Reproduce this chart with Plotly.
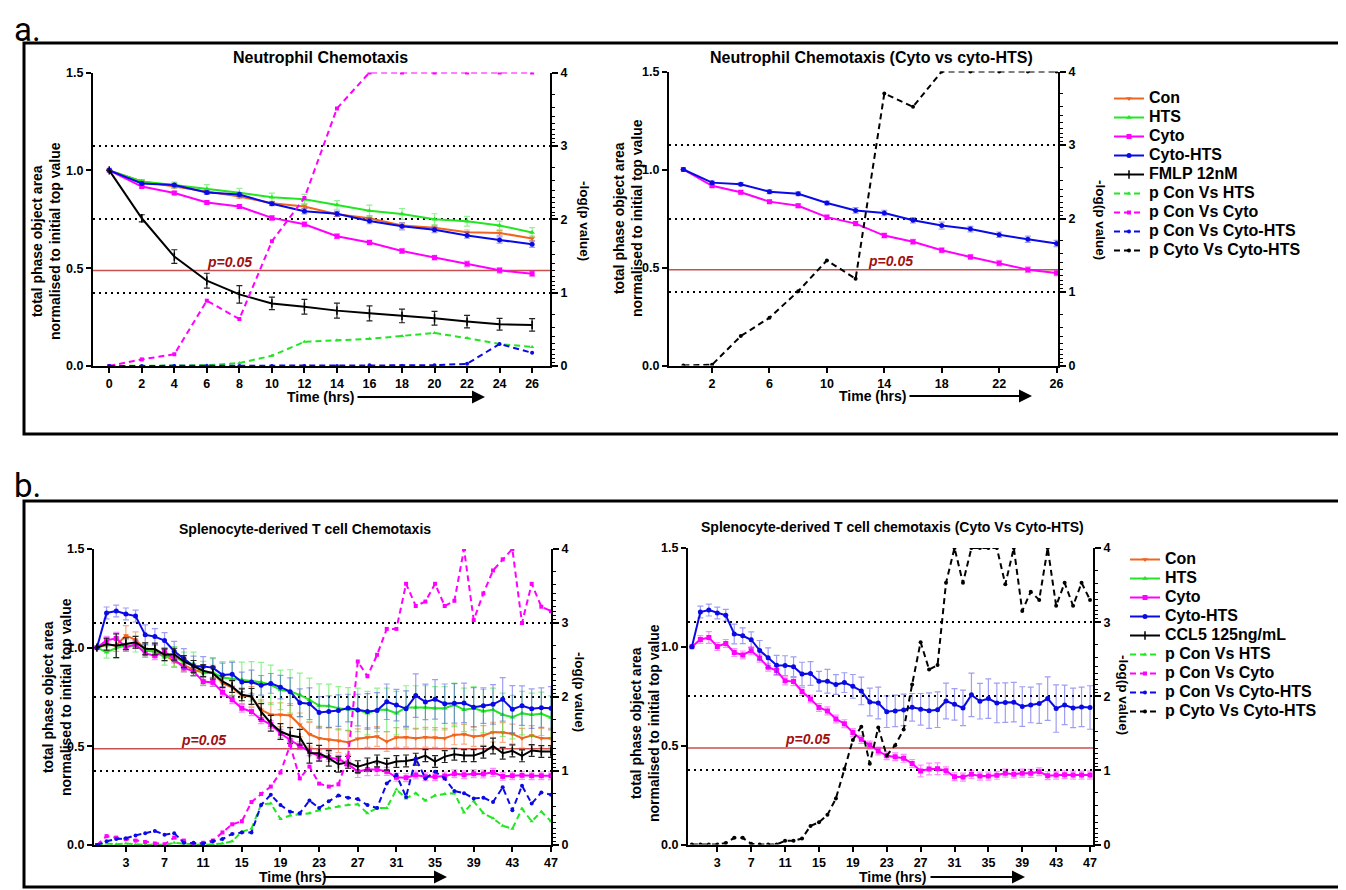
import numpy as np
import plotly.graph_objects as go

# page offset (default body margin) and figure size
OFF = 8
W, H = 1346 - OFF, 890 - OFF
FONT = "Liberation Sans, Arial, Helvetica, sans-serif"


def X(x):
    return (x - OFF) / W


def Y(y):
    return 1 - (y - OFF) / H


# ---------------- panel a data (neutrophils) ----------------
t_a = [0, 2, 4, 6, 8, 10, 12, 14, 16, 18, 20, 22, 24, 26]
con_a = [1.000, 0.943, 0.917, 0.891, 0.866, 0.832, 0.815, 0.776, 0.755, 0.718, 0.707, 0.683, 0.680, 0.652]
con_a_err = [0, 0.008, 0.008, 0.010, 0.010, 0.010, 0.012, 0.012, 0.012, 0.012, 0.012, 0.012, 0.012, 0.012]
hts_a = [1.000, 0.943, 0.925, 0.905, 0.886, 0.862, 0.852, 0.823, 0.794, 0.777, 0.750, 0.740, 0.718, 0.682]
hts_a_err = [0, 0.010, 0.015, 0.022, 0.022, 0.022, 0.025, 0.022, 0.028, 0.028, 0.028, 0.025, 0.022, 0.025]
cyto_a = [1.000, 0.917, 0.884, 0.836, 0.815, 0.757, 0.724, 0.663, 0.631, 0.588, 0.554, 0.522, 0.489, 0.472]
cyto_a_err = [0, 0.008, 0.008, 0.008, 0.010, 0.012, 0.012, 0.012, 0.012, 0.012, 0.012, 0.014, 0.014, 0.014]
cthts_a = [1.000, 0.933, 0.925, 0.887, 0.876, 0.829, 0.791, 0.778, 0.741, 0.714, 0.696, 0.667, 0.644, 0.622]
cthts_a_err = [0, 0.008, 0.008, 0.010, 0.010, 0.010, 0.014, 0.014, 0.014, 0.018, 0.014, 0.014, 0.016, 0.016]
fmlp_a = [1.000, 0.755, 0.559, 0.436, 0.366, 0.320, 0.303, 0.283, 0.269, 0.256, 0.244, 0.227, 0.213, 0.210]
fmlp_a_err = [0, 0.018, 0.035, 0.038, 0.045, 0.032, 0.038, 0.038, 0.038, 0.035, 0.035, 0.032, 0.030, 0.032]

p_con_hts_a = [0, 0, 0, 0.01, 0.04, 0.14, 0.33, 0.35, 0.37, 0.41, 0.45, 0.38, 0.30, 0.26]
p_con_cyto_a = [0, 0.09, 0.16, 0.89, 0.64, 1.70, 2.29, 3.51, 4.0, 4.0, 4.0, 4.0, 4.0, 4.0]
p_con_cthts_a = [0, 0, 0, 0, 0, 0, 0, 0, 0.01, 0, 0.01, 0.03, 0.30, 0.18]
p_cyto_cthts_a = [0, 0.01, 0.40, 0.65, 1.01, 1.43, 1.18, 3.70, 3.52, 4.0, 4.0, 4.0, 4.0, 4.0]

# ---------------- panel b data (T cells) ----------------
t_b = [0, 1, 2, 3, 4, 5, 6, 7,
       8, 9, 10, 11, 12, 13, 14, 15,
       16, 17, 18, 19, 20, 21, 22, 23,
       24, 25, 26, 27, 28, 29, 30, 31,
       32, 33, 34, 35, 36, 37, 38, 39,
       40, 41, 42, 43, 44, 45, 46, 47]
con_b = [1.000, 1.015, 1.011, 1.062, 1.040, 0.994, 0.984, 0.964,
         0.930, 0.913, 0.888, 0.874, 0.871, 0.820, 0.798, 0.756,
         0.753, 0.685, 0.660, 0.660, 0.656, 0.609, 0.561, 0.541,
         0.533, 0.528, 0.521, 0.538, 0.545, 0.550, 0.524, 0.545,
         0.546, 0.541, 0.546, 0.545, 0.541, 0.558, 0.561, 0.550,
         0.555, 0.572, 0.570, 0.563, 0.541, 0.555, 0.541, 0.541]
con_b_err = [0, 0.03, 0.03, 0.05, 0.04, 0.03, 0.03, 0.03,
             0.03, 0.03, 0.03, 0.04, 0.04, 0.04, 0.04, 0.04,
             0.05, 0.05, 0.06, 0.06, 0.06, 0.06, 0.06, 0.06,
             0.06, 0.06, 0.06, 0.05, 0.05, 0.05, 0.05, 0.05,
             0.05, 0.05, 0.05, 0.05, 0.05, 0.05, 0.05, 0.05,
             0.05, 0.05, 0.05, 0.05, 0.05, 0.05, 0.05, 0.05]
hts_b = [1.000, 0.977, 0.998, 1.011, 1.008, 0.984, 0.981, 0.952,
         0.955, 0.927, 0.917, 0.871, 0.874, 0.849, 0.842, 0.837,
         0.829, 0.825, 0.812, 0.786, 0.778, 0.761, 0.736, 0.707,
         0.705, 0.693, 0.688, 0.685, 0.668, 0.685, 0.685, 0.668,
         0.697, 0.697, 0.697, 0.693, 0.693, 0.710, 0.685, 0.693,
         0.678, 0.685, 0.660, 0.648, 0.668, 0.660, 0.665, 0.646]
hts_b_err = [0, 0.03, 0.05, 0.03, 0.03, 0.03, 0.03, 0.04,
             0.05, 0.05, 0.06, 0.06, 0.07, 0.08, 0.09, 0.09,
             0.10, 0.10, 0.10, 0.10, 0.11, 0.11, 0.11, 0.11,
             0.11, 0.11, 0.11, 0.11, 0.11, 0.11, 0.11, 0.11,
             0.11, 0.11, 0.11, 0.11, 0.11, 0.11, 0.11, 0.11,
             0.11, 0.11, 0.11, 0.11, 0.11, 0.11, 0.11, 0.11]
cyto_b = [1.000, 1.037, 1.047, 1.002, 1.017, 0.971, 0.959, 0.980,
          0.943, 0.897, 0.880, 0.828, 0.824, 0.774, 0.736, 0.693,
          0.676, 0.635, 0.611, 0.566, 0.532, 0.503, 0.473, 0.449,
          0.444, 0.436, 0.410, 0.372, 0.382, 0.383, 0.373, 0.343,
          0.341, 0.355, 0.346, 0.346, 0.350, 0.361, 0.356, 0.361,
          0.360, 0.368, 0.348, 0.351, 0.353, 0.351, 0.351, 0.351]
cyto_b_err = [0, 0.02, 0.03, 0.02, 0.02, 0.02, 0.02, 0.02,
              0.02, 0.02, 0.02, 0.02, 0.02, 0.02, 0.02, 0.02,
              0.02, 0.02, 0.02, 0.02, 0.02, 0.02, 0.02, 0.02,
              0.02, 0.02, 0.02, 0.03, 0.03, 0.03, 0.02, 0.02,
              0.02, 0.02, 0.02, 0.02, 0.02, 0.02, 0.02, 0.02,
              0.02, 0.02, 0.02, 0.02, 0.02, 0.02, 0.02, 0.02]
cthts_b = [1.000, 1.176, 1.186, 1.171, 1.160, 1.065, 1.056, 1.036,
           0.982, 0.945, 0.907, 0.905, 0.899, 0.862, 0.865, 0.826,
           0.826, 0.809, 0.819, 0.800, 0.777, 0.721, 0.716, 0.672,
           0.676, 0.681, 0.694, 0.684, 0.677, 0.682, 0.726, 0.709,
           0.691, 0.757, 0.725, 0.738, 0.716, 0.718, 0.720, 0.698,
           0.706, 0.713, 0.738, 0.688, 0.706, 0.691, 0.696, 0.693]
cthts_b_err = [0, 0.03, 0.03, 0.03, 0.03, 0.05, 0.04, 0.04,
               0.05, 0.05, 0.05, 0.05, 0.05, 0.06, 0.06, 0.05,
               0.06, 0.05, 0.05, 0.06, 0.07, 0.07, 0.08, 0.08,
               0.08, 0.08, 0.07, 0.08, 0.09, 0.09, 0.09, 0.08,
               0.09, 0.11, 0.09, 0.10, 0.10, 0.10, 0.10, 0.10,
               0.09, 0.10, 0.11, 0.12, 0.10, 0.10, 0.10, 0.11]
ccl5_b = [1.000, 1.018, 1.010, 1.020, 1.027, 0.994, 0.993, 0.964,
          0.967, 0.930, 0.905, 0.883, 0.871, 0.829, 0.803, 0.761,
          0.753, 0.676, 0.617, 0.575, 0.555, 0.546, 0.465, 0.465,
          0.440, 0.409, 0.419, 0.397, 0.411, 0.426, 0.409, 0.423,
          0.426, 0.435, 0.453, 0.423, 0.448, 0.460, 0.453, 0.453,
          0.470, 0.502, 0.465, 0.477, 0.452, 0.479, 0.474, 0.474]
ccl5_b_err = [0, 0.03, 0.06, 0.03, 0.03, 0.03, 0.03, 0.03,
              0.03, 0.03, 0.03, 0.03, 0.03, 0.03, 0.03, 0.03,
              0.04, 0.04, 0.04, 0.04, 0.04, 0.04, 0.05, 0.04,
              0.04, 0.04, 0.03, 0.03, 0.03, 0.03, 0.03, 0.03,
              0.03, 0.03, 0.03, 0.03, 0.03, 0.03, 0.03, 0.03,
              0.03, 0.04, 0.03, 0.03, 0.03, 0.03, 0.03, 0.03]

p_con_hts_b = [0, 0.02, 0.01, 0.02, 0.01, 0, 0.01, 0,
               0.03, 0.02, 0.01, 0, 0.01, 0.02, 0.05, 0.18,
               0.22, 0.55, 0.56, 0.35, 0.40, 0.41, 0.43, 0.47,
               0.50, 0.52, 0.54, 0.55, 0.43, 0.50, 0.50, 0.75,
               0.63, 0.70, 0.60, 0.67, 0.69, 0.70, 0.44, 0.59,
               0.43, 0.36, 0.26, 0.22, 0.49, 0.32, 0.45, 0.32]
p_con_cyto_b = [0, 0.12, 0.10, 0.08, 0.06, 0.04, 0.02, 0.01,
                0.10, 0.06, 0.01, 0.03, 0.06, 0.17, 0.28, 0.32,
                0.58, 0.69, 0.79, 0.98, 1.35, 0.90, 1.06, 0.83,
                0.79, 0.82, 1.19, 2.48, 2.28, 2.57, 2.92, 2.92,
                3.53, 3.23, 3.29, 3.53, 3.23, 3.30, 4.00, 3.04,
                3.40, 3.71, 3.86, 4.00, 3.00, 3.53, 3.22, 3.16]
p_con_cthts_b = [0, 0.05, 0.08, 0.09, 0.13, 0.16, 0.19, 0.14,
                 0.16, 0.03, 0.03, 0.02, 0.05, 0.08, 0.15, 0.17,
                 0.17, 0.54, 0.68, 0.54, 0.45, 0.43, 0.60, 0.50,
                 0.59, 0.67, 0.64, 0.62, 0.54, 0.50, 0.83, 0.95,
                 0.65, 1.17, 0.90, 0.99, 0.90, 0.73, 0.70, 0.63,
                 0.64, 0.58, 0.78, 0.47, 0.80, 0.56, 0.71, 0.68]
p_cyto_cthts_b = [0, 0, 0, 0, 0.02, 0.09, 0.09, 0.01,
                  0, 0, 0, 0.05, 0.05, 0.08, 0.25, 0.30,
                  0.40, 0.62, 1.02, 1.41, 1.59, 1.09, 1.58, 1.20,
                  1.34, 1.55, 2.16, 2.73, 2.36, 2.42, 3.53, 4.00,
                  3.53, 4.00, 4.00, 4.00, 4.00, 3.51, 4.00, 3.15,
                  3.41, 3.30, 4.00, 3.22, 3.53, 3.22, 3.53, 3.30]

P_THRESHOLD = 0.05

# ---------------- styles ----------------
ORANGE, GREEN, MAGENTA, BLUE, BLACK = "#F0661E", "#22E622", "#FF00FF", "#0A0AE6", "#000000"
ERR = {ORANGE: "rgba(240,102,30,0.55)", GREEN: "rgba(34,230,34,0.5)",
       MAGENTA: "rgba(255,0,255,0.45)", BLUE: "rgba(40,40,230,0.45)", BLACK: "#222222"}


def lname(s):
    return '<span style="font-size:16px">' + s + '</span>'


fig = go.Figure()


def solid(x, y, err, color, symbol, name, xa, ya, show, leg):
    msym = dict(symbol=symbol, size=5, color=color)
    if symbol.startswith("line"):
        msym = dict(symbol=symbol, size=6, color=color, line=dict(color=color, width=1.5))
    fig.add_trace(go.Scatter(
        x=x, y=y, mode="lines+markers", name=lname(name),
        line=dict(color=color, width=2), marker=msym,
        error_y=dict(type="data", array=err, color=ERR[color], thickness=1.2, width=3),
        xaxis=xa, yaxis=ya, showlegend=show, legend=leg))


def dashed(x, y, color, symbol, name, xa, ya, show, leg):
    fig.add_trace(go.Scatter(
        x=x, y=y, mode="lines+markers", name=lname(name),
        line=dict(color=color, width=2, dash="6px,4px"),
        marker=dict(symbol=symbol, size=4, color=color),
        xaxis=xa, yaxis=ya, showlegend=show, legend=leg))


# top-left
solid(t_a, con_a, con_a_err, ORANGE, "triangle-down", "Con", "x", "y", True, "legend")
solid(t_a, hts_a, hts_a_err, GREEN, "triangle-up", "HTS", "x", "y", True, "legend")
solid(t_a, cyto_a, cyto_a_err, MAGENTA, "square", "Cyto", "x", "y", True, "legend")
solid(t_a, cthts_a, cthts_a_err, BLUE, "circle", "Cyto-HTS", "x", "y", True, "legend")
solid(t_a, fmlp_a, fmlp_a_err, BLACK, "line-ns-open", "FMLP 12nM", "x", "y", True, "legend")
dashed(t_a, p_con_hts_a, GREEN, "triangle-up", "p Con Vs HTS", "x", "y5", True, "legend")
dashed(t_a, p_con_cyto_a, MAGENTA, "square", "p Con Vs Cyto", "x", "y5", True, "legend")
dashed(t_a, p_con_cthts_a, BLUE, "circle", "p Con Vs Cyto-HTS", "x", "y5", True, "legend")
# top-right
solid(t_a, cyto_a, cyto_a_err, MAGENTA, "square", "Cyto", "x2", "y2", False, "legend")
solid(t_a, cthts_a, cthts_a_err, BLUE, "circle", "Cyto-HTS", "x2", "y2", False, "legend")
dashed(t_a, p_cyto_cthts_a, BLACK, "circle", "p Cyto Vs Cyto-HTS", "x2", "y6", True, "legend")
# bottom-left
solid(t_b, con_b, con_b_err, ORANGE, "triangle-down", "Con", "x3", "y3", True, "legend2")
solid(t_b, hts_b, hts_b_err, GREEN, "triangle-up", "HTS", "x3", "y3", True, "legend2")
solid(t_b, cyto_b, cyto_b_err, MAGENTA, "square", "Cyto", "x3", "y3", True, "legend2")
solid(t_b, cthts_b, cthts_b_err, BLUE, "circle", "Cyto-HTS", "x3", "y3", True, "legend2")
solid(t_b, ccl5_b, ccl5_b_err, BLACK, "line-ns-open", "CCL5 125ng/mL", "x3", "y3", True, "legend2")
dashed(t_b, p_con_hts_b, GREEN, "triangle-up", "p Con Vs HTS", "x3", "y7", True, "legend2")
dashed(t_b, p_con_cyto_b, MAGENTA, "square", "p Con Vs Cyto", "x3", "y7", True, "legend2")
dashed(t_b, p_con_cthts_b, BLUE, "circle", "p Con Vs Cyto-HTS", "x3", "y7", True, "legend2")
# bottom-right
solid(t_b, cyto_b, cyto_b_err, MAGENTA, "square", "Cyto", "x4", "y4", False, "legend2")
solid(t_b, cthts_b, cthts_b_err, BLUE, "circle", "Cyto-HTS", "x4", "y4", False, "legend2")
dashed(t_b, p_cyto_cthts_b, BLACK, "circle", "p Cyto Vs Cyto-HTS", "x4", "y8", True, "legend2")

# ---------------- axes ----------------
TICKFONT = dict(family=FONT, size=12.5, color="black", weight="bold")
minor_p = [n + 1 - np.log10(k) for n in range(4) for k in range(2, 10)]


def xax(x0, x1, rng, tickvals, anchor):
    return dict(domain=[X(x0), X(x1)], range=rng, anchor=anchor, tickvals=tickvals, automargin=False,
                showline=True, linecolor="black", linewidth=2, ticks="outside", ticklen=5,
                tickwidth=2, tickcolor="black", showgrid=False, zeroline=False, tickfont=TICKFONT)


def ylax(y_top, y_bot, anchor):
    return dict(domain=[Y(y_bot), Y(y_top)], range=[0, 1.5], anchor=anchor, automargin=False,
                tickvals=[0, 0.5, 1.0, 1.5], tickformat=".1f", showline=True, linecolor="black",
                linewidth=2, ticks="outside", ticklen=5, tickwidth=2, tickcolor="black",
                showgrid=False, zeroline=False, tickfont=TICKFONT)


def yrax(over, anchor):
    return dict(overlaying=over, anchor=anchor, side="right", range=[0, 4], tickvals=[0, 1, 2, 3, 4],
                automargin=False, showline=True, linecolor="black", linewidth=2, ticks="outside",
                ticklen=6, tickwidth=2, tickcolor="black", showgrid=True, gridcolor="black",
                gridwidth=1.6, griddash="2px,4px", zeroline=False, tickfont=TICKFONT,
                minor=dict(tickvals=minor_p, ticks="outside", ticklen=3, tickwidth=1.2,
                           tickcolor="black", showgrid=False))


fig.update_layout(
    template="none",
    xaxis=xax(93, 550, [-1, 27.1], [0, 2, 4, 6, 8, 10, 12, 14, 16, 18, 20, 22, 24, 26], "y"),
    yaxis=ylax(72.5, 366, "x"),
    yaxis5=yrax("y", "x"),
    xaxis2=xax(669, 1058, [-1, 26.1], [2, 6, 10, 14, 18, 22, 26], "y2"),
    yaxis2=ylax(71.5, 365.5, "x2"),
    yaxis6=yrax("y2", "x2"),
    xaxis3=xax(94, 551, [-0.3, 47.0], [3, 7, 11, 15, 19, 23, 27, 31, 35, 39, 43, 47], "y3"),
    yaxis3=ylax(549, 845, "x3"),
    yaxis7=yrax("y3", "x3"),
    xaxis4=xax(688, 1093, [-0.46, 47.35], [3, 7, 11, 15, 19, 23, 27, 31, 35, 39, 43, 47], "y4"),
    yaxis4=ylax(548, 844.5, "x4"),
    yaxis8=yrax("y4", "x4"),
)

# ---------------- p = 0.05 threshold ----------------
p_line = -np.log10(P_THRESHOLD)
shapes = []
annots = []
for xa, ya, xt in [("x", "y5", 7.4), ("x2", "y6", 14.4), ("x3", "y7", 11.0), ("x4", "y8", 13.7)]:
    shapes.append(dict(type="line", xref=xa + " domain", x0=0, x1=1, yref=ya, y0=p_line, y1=p_line,
                       line=dict(color="#C85050", width=1.5), layer="below"))
    annots.append(dict(text="<b><i>p=0.05</i></b>", xref=xa, yref=ya, x=xt, y=p_line,
                       xanchor="center", yanchor="bottom", yshift=-1, showarrow=False,
                       font=dict(family=FONT, size=14, color="#A01010")))

# panel frames
shapes.append(dict(type="rect", xref="paper", yref="paper", x0=X(24), x1=X(1342),
                   y0=Y(434), y1=Y(43), line=dict(color="black", width=3)))
shapes.append(dict(type="rect", xref="paper", yref="paper", x0=X(24), x1=X(1342),
                   y0=Y(887), y1=Y(501), line=dict(color="black", width=3)))


def A(text, x, y, size, family=FONT, xanchor="center", yanchor="middle", **kw):
    annots.append(dict(text=text, x=X(x), y=Y(y), xref="paper", yref="paper", showarrow=False,
                       xanchor=xanchor, yanchor=yanchor,
                       font=dict(family=family, size=size, color="black"), **kw))


A("a.", 27, 8, 33, family="Roboto, Lato, sans-serif", yanchor="top")
A("b.", 27, 464, 33, family="Roboto, Lato, sans-serif", yanchor="top")

A("<b>Neutrophil Chemotaxis</b>", 320, 57, 16)
A("<b>Neutrophil Chemotaxis (Cyto vs cyto-HTS)</b>", 871, 57, 16)
A("<b>Splenocyte-derived T cell Chemotaxis</b>", 305, 529, 14)
A("<b>Splenocyte-derived T cell chemotaxis (Cyto Vs Cyto-HTS)</b>", 892, 527, 14)

YT = "<b>total phase object area<br>normalised to initial top value</b>"
A(YT, 46, 241, 14, textangle=-90)
A(YT, 628, 218, 14, textangle=-90)
A(YT, 57, 697, 14, textangle=-90)
A(YT, 645, 723, 14, textangle=-90)

RT = "<b>-log(p value)</b>"
A(RT, 584, 221, 13.5, textangle=90)
A(RT, 1100, 220, 13.5, textangle=90)
A(RT, 580, 692, 13.5, textangle=90)
A(RT, 1124, 695, 13.5, textangle=90)

for cx, y, x0, x1 in [(320, 397, 356, 485), (872, 396, 908, 1032), (292, 877, 322, 447), (892, 877, 929, 1025)]:
    A("<b>Time (hrs)</b>", cx, y, 14)
    annots.append(dict(text="", x=X(x1), y=Y(y), xref="paper", yref="paper", showarrow=True,
                       ax=-(x1 - x0), ay=0, arrowhead=2, arrowsize=1.3, arrowwidth=2,
                       arrowcolor="black"))

LEGFONT = dict(family=FONT, size=12, color="black", weight="bold")
fig.update_layout(
    width=W, height=H, margin=dict(l=0, r=0, t=0, b=0, autoexpand=False),
    paper_bgcolor="white", plot_bgcolor="white",
    shapes=shapes, annotations=annots,
    legend=dict(x=X(1109), y=Y(84), xanchor="left", yanchor="top", font=LEGFONT,
                bgcolor="rgba(0,0,0,0)", tracegroupgap=0, itemwidth=30),
    legend2=dict(x=X(1125), y=Y(545), xanchor="left", yanchor="top", font=LEGFONT,
                 bgcolor="rgba(0,0,0,0)", tracegroupgap=0, itemwidth=30),
)

fig.write_html("out.html")
